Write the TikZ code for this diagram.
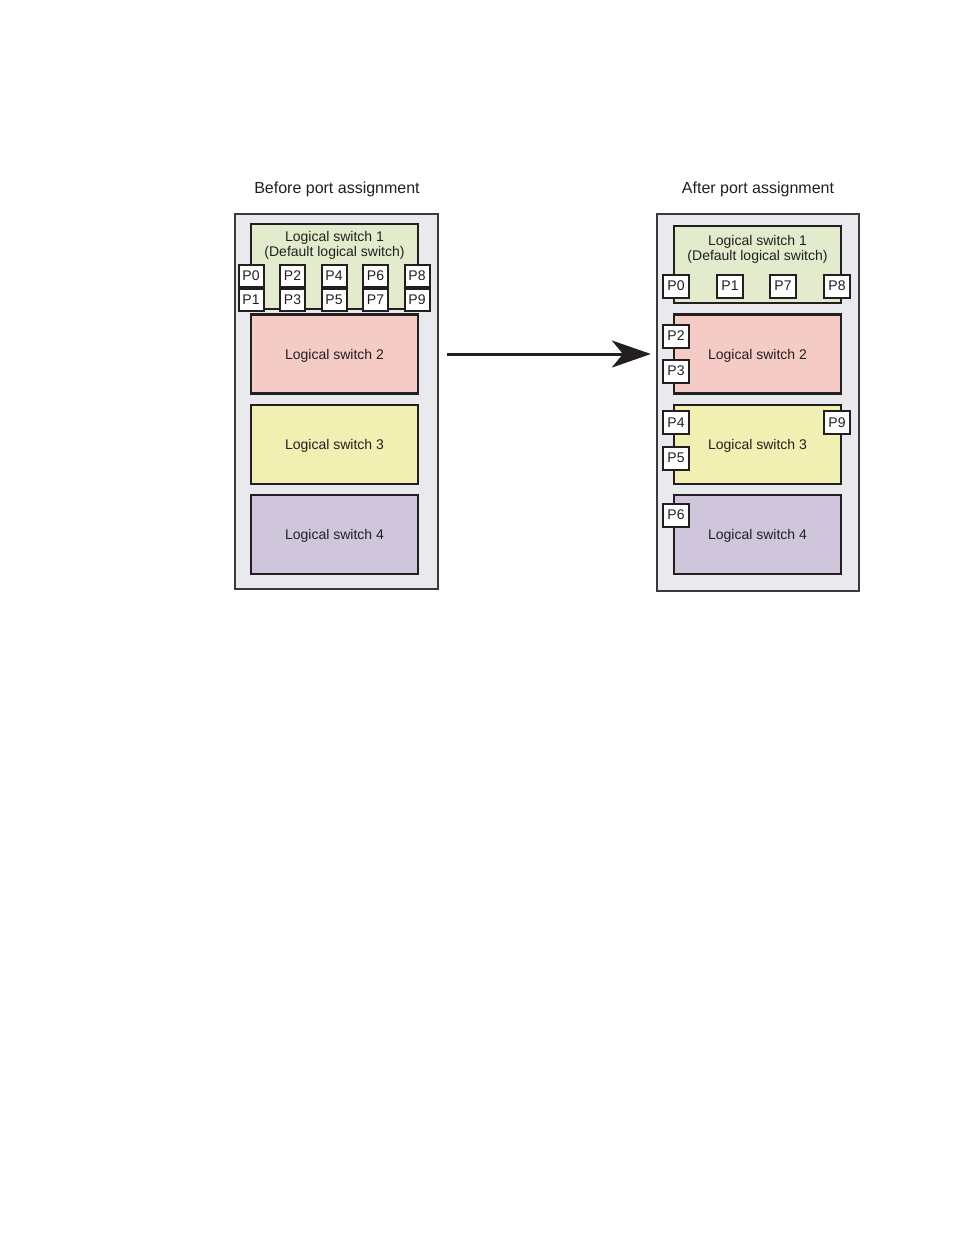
\documentclass[tikz,border=0pt]{standalone}
\usepackage{fontspec}
\setmainfont{Liberation Sans}
\usetikzlibrary{arrows.meta}

\definecolor{inkdark}{HTML}{231F20}
\definecolor{rackgray}{HTML}{E9EAEE}
\definecolor{rackline}{HTML}{3A3A3C}
\definecolor{lsgreen}{HTML}{E2EBCB}
\definecolor{lspink}{HTML}{F5CBC6}
\definecolor{lsyellow}{HTML}{F2EFB3}
\definecolor{lslilac}{HTML}{CFC6DC}

\newcommand{\lblfont}{\fontsize{14}{15}\selectfont}
\newcommand{\ttlfont}{\fontsize{16}{18}\selectfont}

\tikzset{
  rack/.style={draw=rackline, fill=rackgray, line width=2pt, inner sep=0pt,
    minimum width=203, minimum height=375},
  lswitch/.style={draw=inkdark, line width=2.2pt, inner sep=0pt, text depth=0pt,
    minimum width=167, minimum height=79, font=\lblfont, text=inkdark},
  port/.style={draw=inkdark, fill=white, line width=2pt, inner sep=0pt,
    minimum width=25, minimum height=22, font=\lblfont, text=inkdark},
  bigport/.style={port, minimum width=26, minimum height=23},
  title/.style={font=\ttlfont, text=inkdark, anchor=base},
}

\begin{document}
\begin{tikzpicture}[x=1pt, y=-1pt]
    \useasboundingbox (0,0) rectangle (954,1235);
    % Titles
    \node[title] (ttlL) at (337,193) {Before port assignment};
    \node[title] (ttlR) at (758,193) {After port assignment};
    % Before: chassis and logical switches
    \node[rack] (rackL) at (336.5,401) {};
    \node[lswitch, fill=lsgreen, minimum height=85] (ls1L) at (334.5,266.5) {};
    \node[font=\lblfont, text=inkdark, align=center, anchor=base] (ls1Ltxt) at (334.5,256)
        {Logical switch 1\\(Default logical switch)};
    \node[lswitch, fill=lspink] (ls2L) at (334.5,354) {Logical switch 2};
    \node[lswitch, fill=lsyellow] (ls3L) at (334.5,444.5) {Logical switch 3};
    \node[lswitch, fill=lslilac] (ls4L) at (334.5,534.5) {Logical switch 4};
    % Before: all ports in switch 1
    \foreach \i/\x in {0/251,1/292.5,2/334,3/375.5,4/417} {
        \pgfmathtruncatemacro{\top}{2*\i}
        \pgfmathtruncatemacro{\bot}{2*\i+1}
        \node[port] (pL\top) at (\x,275.5) {P\top};
        \node[port] (pL\bot) at (\x,300) {P\bot};
    }
    % After: chassis and logical switches
    \node[rack, minimum width=202, minimum height=377] (rackR) at (758,402.5) {};
    \node[lswitch, fill=lsgreen, minimum height=77] (ls1R) at (757.5,264.5) {};
    \node[font=\lblfont, text=inkdark, align=center, anchor=base] (ls1Rtxt) at (757.5,260)
        {Logical switch 1\\(Default logical switch)};
    \node[lswitch, fill=lspink] (ls2R) at (757.5,354) {Logical switch 2};
    \node[lswitch, fill=lsyellow] (ls3R) at (757.5,444.5) {Logical switch 3};
    \node[lswitch, fill=lslilac] (ls4R) at (757.5,534.5) {Logical switch 4};
    % After: ports moved to their switches
    \node[bigport] (pR0) at (676,286) {P0};
    \node[bigport] (pR1) at (730,286) {P1};
    \node[bigport] (pR7) at (783,286) {P7};
    \node[bigport] (pR8) at (837,286) {P8};
    \node[bigport] (pR2) at (676,336) {P2};
    \node[bigport] (pR3) at (676,371) {P3};
    \node[bigport] (pR4) at (676,422.5) {P4};
    \node[bigport] (pR5) at (676,458) {P5};
    \node[bigport] (pR9) at (837,422.5) {P9};
    \node[bigport] (pR6) at (676,515) {P6};
    % Arrow
    \draw[-{Stealth[length=39pt, width=27pt, inset=11pt]}, line width=3pt, draw=inkdark,
        shorten <=28pt, shorten >=22pt] (ls2L.east) -- (ls2R.west);
\end{tikzpicture}
\end{document}
